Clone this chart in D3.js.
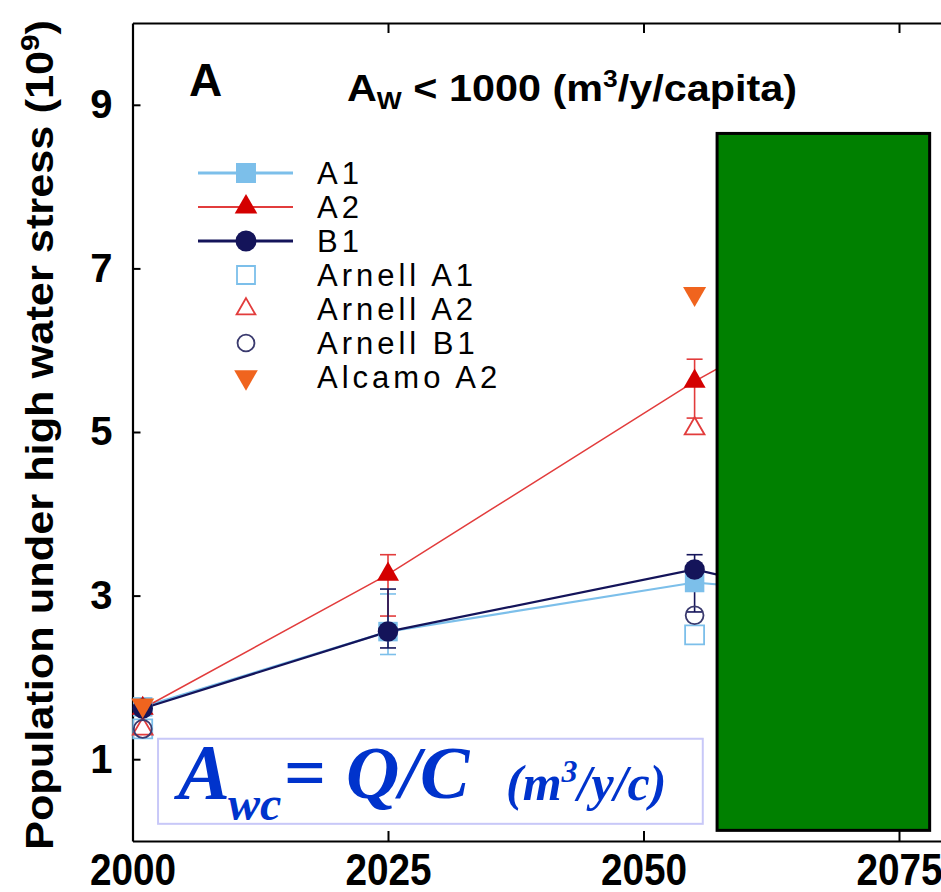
<!DOCTYPE html>
<html>
<head>
  <title>Population under high water stress</title>
  <script type="text/javascript" src="https://d3js.org/d3.v7.min.js"></script>
  <style>
    body { margin: 0; background: #fff; }
    svg { display: block; font-family: "Liberation Sans", Arial, sans-serif; }
  </style>
</head>
<body>
<div class="chart"></div>

<script type="text/javascript">

    // ---- data ----
    const years = [2001, 2025, 2055, 2075];
    const a1Pop = [1.64, 2.56, 3.16, 2.95];
    const a1Low = [null, 2.28, null, null];
    const a1High = [null, 3.02, null, null];
    const a2Pop = [1.62, 3.26, 5.62, 7.0];
    const a2Low = [null, 2.75, 5.17, null];
    const a2High = [null, 3.5, 5.89, null];
    const b1Pop = [1.62, 2.56, 3.32, 2.75];
    const b1Low = [null, 2.36, 2.8, null];
    const b1High = [null, 3.08, 3.5, null];

    const otherYears = [2001, 2055];
    const arnellA1 = [1.37, 2.52];
    const arnellA2 = [1.37, 5.04];
    const arnellB1 = [1.37, 2.76];
    const alcamoA2 = [1.66, 6.69];

    const xTicks = [2000, 2025, 2050, 2075];
    const yTicks = [1, 3, 5, 7, 9];

    const width = 941, height = 892;

    const svg = d3.select(".chart").append("svg")
        .attr("width", width)
        .attr("height", height);

    const xScale = d3.scaleLinear()
        .domain([2000, 2100])
        .range([132.5, 1154.5]);

    const yScale = d3.scaleLinear()
        .domain([0, 10])
        .range([841, 23]);

    const light = "#7cbfea", red = "#d40000", redLine = "#e23c3c",
          navy = "#14145a", orange = "#f0641e";

    // axes --------------------------------------------------------------
    const xAxis = d3.axisBottom(xScale)
        .tickValues(xTicks)
        .tickFormat(d3.format("d"))
        .tickSizeInner(-10)
        .tickSizeOuter(0)
        .tickPadding(13);

    svg.append("g")
        .attr("class", "x-axis")
        .attr("transform", "translate(0," + yScale(0) + ")")
        .call(xAxis);

    svg.append("g")
        .attr("class", "top-axis")
        .attr("transform", "translate(0," + yScale(10) + ")")
        .call(d3.axisTop(xScale).tickValues(xTicks.slice(1)).tickFormat("")
            .tickSizeInner(-10).tickSizeOuter(0));

    const yAxis = d3.axisLeft(yScale)
        .tickValues(yTicks)
        .tickSizeInner(-8)
        .tickSizeOuter(0)
        .tickPadding(20);

    svg.append("g")
        .attr("class", "y-axis")
        .attr("transform", "translate(" + xScale(2000) + ",0)")
        .call(yAxis);

    svg.selectAll(".x-axis path, .y-axis path, .top-axis path")
        .attr("stroke", "#000").attr("stroke-width", 2.2);
    svg.selectAll(".tick line").attr("stroke", "#000").attr("stroke-width", 2);
    svg.selectAll(".x-axis text, .y-axis text")
        .attr("font-family", "Liberation Sans, Arial, sans-serif")
        .attr("font-weight", "bold")
        .attr("font-size", 40)
        .attr("fill", "#000");
    // year labels are taller and narrower in the original
    svg.selectAll(".x-axis text")
        .attr("font-size", 44)
        .attr("transform", "scale(0.88,1)");

    // y label
    const yLab = svg.append("text")
        .attr("transform", "translate(40," + 435 + ") rotate(-90)")
        .attr("text-anchor", "middle")
        .attr("dy", "0.35em")
        .attr("font-weight", "bold")
        .attr("font-size", 38);
    yLab.append("tspan").text("Population under high water stress (10");
    yLab.append("tspan").attr("font-size", 26).attr("dy", -14).text("9");
    yLab.append("tspan").attr("dy", 14).text(")");
    yLab.attr("textLength", 830).attr("lengthAdjust", "spacingAndGlyphs");

    // panel letter + subtitle
    svg.append("text")
        .attr("x", 189).attr("y", 96)
        .attr("font-weight", "bold").attr("font-size", 46)
        .text("A");

    const sub = svg.append("text")
        .attr("x", 347).attr("y", 101)
        .attr("font-weight", "bold").attr("font-size", 36);
    sub.append("tspan").text("A");
    sub.append("tspan").attr("font-size", 23).attr("dy", 8).text("W");
    sub.append("tspan").attr("dy", -8).text(" < 1000 (m");
    sub.append("tspan").attr("font-size", 23).attr("dy", -14).text("3");
    sub.append("tspan").attr("dy", 14).text("/y/capita)");
    sub.attr("textLength", 450).attr("lengthAdjust", "spacingAndGlyphs");

    // series ------------------------------------------------------------
    const series = [
        {name: "A1", vals: a1Pop, lo: a1Low, hi: a1High, color: light, lineColor: light, lw: 2.2,
         sym: d3.symbolSquare, size: 380, fill: true},
        {name: "A2", vals: a2Pop, lo: a2Low, hi: a2High, color: red, lineColor: redLine, lw: 1.5,
         sym: d3.symbolTriangle, size: 210, fill: true},
        {name: "B1", vals: b1Pop, lo: b1Low, hi: b1High, color: navy, lineColor: navy, lw: 2.2,
         sym: d3.symbolCircle, size: 330, fill: true}
    ];

    const extras = [
        {name: "Arnell A1", vals: arnellA1, color: light, sym: d3.symbolSquare, size: 360, fill: false},
        {name: "Arnell A2", vals: arnellA2, color: redLine, sym: d3.symbolTriangle, size: 170, fill: false},
        {name: "Arnell B1", vals: arnellB1, color: "#3a3a6e", sym: d3.symbolCircle, size: 250, fill: false},
        {name: "Alcamo A2", vals: alcamoA2, color: orange, sym: d3.symbolTriangle, size: 230, fill: true, flip: true}
    ];

    const line = d3.line()
        .x((d, i) => xScale(years[i]))
        .y(d => yScale(d));

    const plot = svg.append("g");

    series.forEach(s => {
        plot.append("path")
            .attr("d", line(s.vals))
            .attr("fill", "none")
            .attr("stroke", s.lineColor)
            .attr("stroke-width", s.lw);
    });

    // error bars
    series.forEach(s => {
        const bars = years.map((yr, i) => ({yr, lo: s.lo[i], hi: s.hi[i]}))
            .filter(d => d.lo != null);
        const g = plot.append("g").attr("stroke", s.name == "A2" ? redLine : s.color)
            .attr("stroke-width", 1.6);
        g.selectAll(".err").data(bars).enter().append("line")
            .attr("x1", d => xScale(d.yr)).attr("x2", d => xScale(d.yr))
            .attr("y1", d => yScale(d.lo)).attr("y2", d => yScale(d.hi));
        ["lo", "hi"].forEach(k => {
            g.selectAll(".cap-" + k).data(bars).enter().append("line")
                .attr("x1", d => xScale(d.yr) - 8).attr("x2", d => xScale(d.yr) + 8)
                .attr("y1", d => yScale(d[k])).attr("y2", d => yScale(d[k]));
        });
    });

    function drawMarkers(s, xs) {
        plot.selectAll(null).data(s.vals).enter().append("path")
            .attr("d", d3.symbol().type(s.sym).size(s.size))
            .attr("transform", (d, i) => "translate(" + xScale(xs[i]) + "," + yScale(d) + ")"
                + (s.flip ? " rotate(180)" : ""))
            .attr("fill", s.fill ? s.color : "#fff")
            .attr("fill-opacity", s.fill ? 1 : 0)
            .attr("stroke", s.fill ? "none" : s.color)
            .attr("stroke-width", 1.8);
    }

    extras.slice(0, 3).forEach(s => drawMarkers(s, otherYears));
    series.forEach(s => drawMarkers(s, years));
    drawMarkers(extras[3], otherYears);

    // legend ------------------------------------------------------------
    const legendRows = series.concat(extras);
    const legend = svg.append("g").attr("class", "legend");
    legendRows.forEach((s, i) => {
        const ly = 173 + i * 34;
        const row = legend.append("g").attr("transform", "translate(0," + ly + ")");
        if (s.lineColor) {
            row.append("line").attr("x1", 198).attr("x2", 293)
                .attr("stroke", s.lineColor).attr("stroke-width", s.lw + 0.6);
        }
        row.append("path")
            .attr("d", d3.symbol().type(s.sym).size(s.size * (s.fill ? 1.05 : 0.9)))
            .attr("transform", "translate(246,0)" + (s.flip ? " rotate(180)" : ""))
            .attr("fill", s.fill ? s.color : "none")
            .attr("stroke", s.fill ? "none" : s.color)
            .attr("stroke-width", 1.8);
        row.append("text")
            .attr("x", 317).attr("dy", "0.36em")
            .attr("font-size", 31)
            .attr("letter-spacing", 4)
            .text(s.name);
    });

    // formula box (annotation)
    const boxYears = [2002.5, 2055.8], boxVals = [1.25, 0.21];
    svg.append("rect")
        .attr("x", xScale(boxYears[0])).attr("y", yScale(boxVals[0]))
        .attr("width", xScale(boxYears[1]) - xScale(boxYears[0]))
        .attr("height", yScale(boxVals[1]) - yScale(boxVals[0]))
        .attr("fill", "#fff")
        .attr("stroke", "#c8c8f8").attr("stroke-width", 2);

    const f = svg.append("g")
        .attr("fill", "#0033cc")
        .attr("font-family", "Liberation Serif, Times New Roman, serif")
        .attr("font-style", "italic").attr("font-weight", "bold");
    f.append("text").attr("x", 178).attr("y", 798).attr("font-size", 78).text("A");
    f.append("text").attr("x", 228).attr("y", 820).attr("font-size", 48).text("wc");
    f.append("text").attr("x", 284).attr("y", 798).attr("font-size", 74).attr("font-style", "normal").text("=");
    f.append("text").attr("x", 346).attr("y", 798).attr("font-size", 74).text("Q/C");
    const u = f.append("text").attr("x", 506).attr("y", 800).attr("font-size", 50);
    u.append("tspan").text("(m");
    u.append("tspan").attr("font-size", 32).attr("dy", -18).text("3");
    u.append("tspan").attr("dy", 18).text("/y/c)");

    // green cover box
    const coverYears = [2057.2, 2078.0], coverVals = [8.65, 0.13];
    svg.append("rect")
        .attr("x", xScale(coverYears[0])).attr("y", yScale(coverVals[0]))
        .attr("width", xScale(coverYears[1]) - xScale(coverYears[0]))
        .attr("height", yScale(coverVals[1]) - yScale(coverVals[0]))
        .attr("fill", "#008000")
        .attr("stroke", "#000").attr("stroke-width", 3);

</script>
</body>
</html>
